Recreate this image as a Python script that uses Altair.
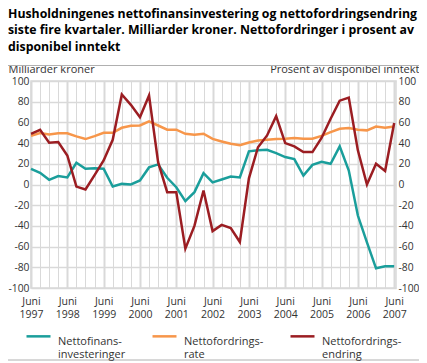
import json
import altair as alt
import pandas as pd

# ---- data (quarterly, Juni 1997 .. Juni 2007) ----
quarters = list(range(41))
years = [str(y) for y in range(1997, 2008)]

finans = [15.2, 11.3, 4.5, 8.1, 6.8, 21, 15.2, 15.8, 15.2, -2, 0.6,
          0, 3.9, 16.5, 19.4, 6.5, -2.6, -16, -7.4, 11, 2,
          4.8, 7.7, 6.8, 32, 33, 33.5, 30.3, 26.5, 24.5, 8.7,
          19, 22, 20, 36.8, 13.5, -30, -56, -81, -79, -79]
rate = [47, 49.7, 48.4, 49.4, 49.4, 46.5, 43.9, 46.8, 50, 50, 54.8,
        56.8, 57, 61, 57, 53, 53, 49, 48, 49, 44,
        41.6, 39.4, 38, 40.6, 42.6, 43.2, 43.9, 44.2, 45, 44.2,
        44.2, 47, 50.6, 53.9, 54.5, 53, 52.3, 56, 54.8, 56]
endring = [49, 52.9, 40.3, 41, 28, -2, -4.8, 9, 23.2, 43.2, 87,
           77, 65, 86, 21.6, -7.4, -7.4, -62, -40, -5.8, -45,
           -39, -42, -55.5, 6, 36, 47.4, 66, 40, 36.8, 31.3,
           31.3, 45, 63.5, 81, 84, 33, 0, 20, 13, 59.4]

series_names = ["Nettofinans-|investeringer", "Nettofordrings-|rate", "Nettofordrings-|endring"]
colors = ["#1A9E9B", "#F7964A", "#9B1D22"]
title_lines = ["Husholdningenes nettofinansinvestering og nettofordringsendring",
               "siste fire kvartaler. Milliarder kroner. Nettofordringer i prosent av",
               "disponibel inntekt"]
left_title = "Milliarder kroner"
right_title = "Prosent av disponibel inntekt"
y_ticks = list(range(-100, 101, 20))

rows = []
for name, vals in zip(series_names, [finans, rate, endring]):
    for q, v in zip(quarters, vals):
        rows.append({"q": q, "value": v, "series": name})
df = pd.DataFrame(rows)

FONT = "Open Sans"
GRID = "#d9d9d9"
LABEL = "#333333"
TICKFS = 10.3
Y_LABEL_EXPR = "datum.value < 0 ? '-' + abs(datum.value) : '' + datum.value"

PLOT_W = 365
PAD_L, PAD_R = 23, 23   # total 411 = available page width

x_enc = alt.X(
    "q:Q",
    scale=alt.Scale(domain=[0, 40.2], nice=False, zero=False),
    axis=alt.Axis(
        values=quarters,
        labelExpr="datum.value % 4 == 0 ? ['Juni', " + json.dumps(years) + "[datum.value / 4]] : ''",
        grid=True,
        gridColor=GRID,
        gridWidth={"condition": {"test": "datum.value % 4 == 0", "value": 2}, "value": 1},
        ticks=False,
        domain=False,
        title=None,
        labelPadding=8,
        labelLineHeight=13,
        labelFontSize=10.5,
        labelFont=FONT,
        labelColor=LABEL,
        labelOverlap=False,
        labelFlush=False,
    ),
)

color_enc = alt.Color(
    "series:N",
    scale=alt.Scale(domain=series_names, range=colors),
    legend=alt.Legend(
        orient="none",
        legendX=-6,
        legendY=247,
        direction="horizontal",
        title=None,
        symbolType="M-1,-0.45L1,-0.45",
        symbolSize=576,
        symbolStrokeWidth=2.5,
        labelExpr="split(datum.label, '|')",
        labelFont=FONT,
        labelFontSize=11,
        labelColor=LABEL,
        labelOffset=6,
        labelLimit=200,
        columnPadding=21,
        labelBaseline="middle",
    ),
)

yscale = alt.Scale(domain=[-100, 100], nice=False, zero=False)

right_layer = alt.Chart(df).transform_filter(
    alt.datum.series == series_names[1]
).mark_line(strokeWidth=2.5).encode(
    x=x_enc,
    y=alt.Y("value:Q", scale=yscale, axis=alt.Axis(
        orient="right", values=y_ticks, grid=False, ticks=False, domain=False,
        labelExpr=Y_LABEL_EXPR,
        labelPadding=2, labelFontSize=TICKFS, labelFont=FONT, labelColor=LABEL,
        title=right_title, titleAngle=0, titleX=PAD_R, titleY=-9, titleAlign="right",
        titleBaseline="alphabetic", titleFontWeight="normal", titleFontSize=11,
        titleFont=FONT, titleColor=LABEL)),
    color=color_enc,
)

left_layer = alt.Chart(df).transform_filter(
    alt.datum.series != series_names[1]
).mark_line(strokeWidth=2.5).encode(
    x=x_enc,
    y=alt.Y("value:Q", scale=yscale, axis=alt.Axis(
        orient="left", values=y_ticks, grid=True, gridColor=GRID, gridWidth=1.5,
        ticks=False, domain=False,
        labelExpr=Y_LABEL_EXPR,
        labelPadding=2, labelFontSize=TICKFS, labelFont=FONT, labelColor=LABEL,
        title=left_title, titleAngle=0, titleX=-PAD_L, titleY=-9, titleAlign="left",
        titleBaseline="alphabetic", titleFontWeight="normal", titleFontSize=11,
        titleFont=FONT, titleColor=LABEL)),
    color=color_enc,
)

title_layer = alt.Chart(alt.Data(values=[{}])).mark_text(
    align="left", baseline="alphabetic", fontSize=12.3, fontWeight="bold",
    font=FONT, lineHeight=16.3, color="#000000",
).encode(x=alt.value(-PAD_L), y=alt.value(-63), text=alt.value(title_lines))

top_rule = alt.Chart(alt.Data(values=[{}])).mark_rule(color="#b0b0b0", strokeWidth=1).encode(
    x=alt.value(-PAD_L), x2=alt.value(PLOT_W + PAD_R), y=alt.value(-15.5))
bottom_rule = alt.Chart(alt.Data(values=[{}])).mark_rule(color="#b0b0b0", strokeWidth=1).encode(
    x=alt.value(-PAD_L), x2=alt.value(PLOT_W + PAD_R), y=alt.value(279))

chart = alt.layer(
    right_layer, left_layer, title_layer, top_rule, bottom_rule
).resolve_scale(y="independent").properties(
    width=PLOT_W,
    height=207,
    autosize=alt.AutoSizeParams(type="none"),
    padding={"left": PAD_L, "top": 73, "right": PAD_R, "bottom": 75},
).configure_view(stroke=GRID, strokeWidth=1.5)

chart.save("out.html", embed_options={"renderer": "svg", "actions": False})
